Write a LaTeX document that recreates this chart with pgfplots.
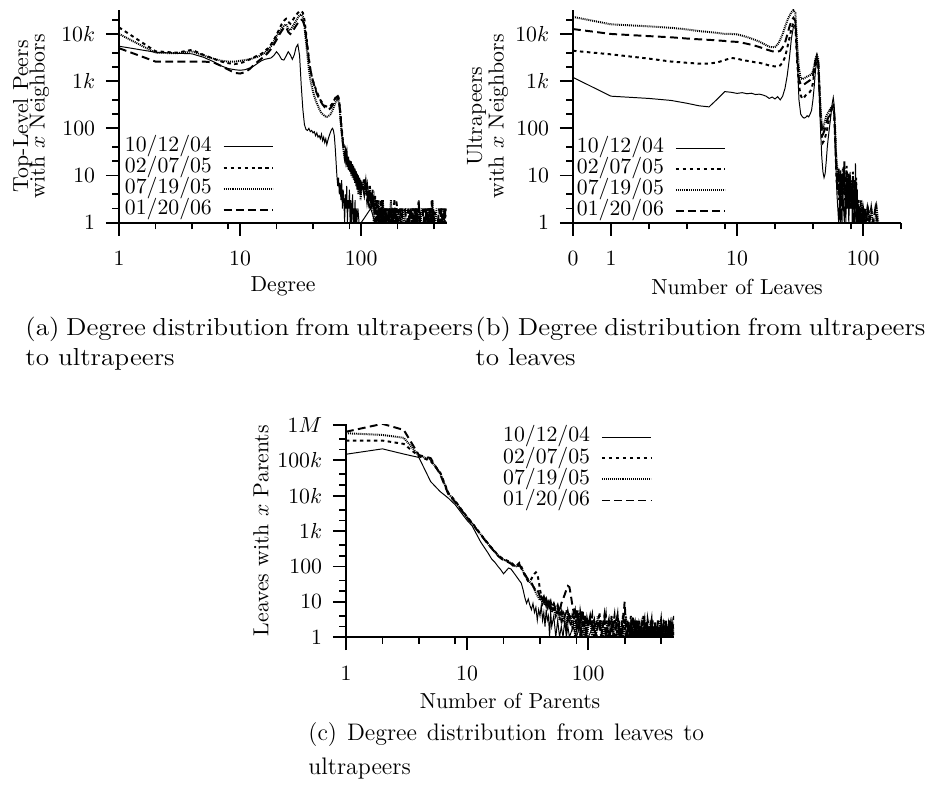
\documentclass[border=0pt]{standalone}
\usepackage{graphicx}
\usepackage{pgfplots}
\pgfplotsset{compat=1.18}
\tikzset{
 s1/.style={black, line width=0.45pt, solid},
 s2/.style={black, line width=0.9pt, dash pattern=on 1.6pt off 1.6pt},
 s3/.style={black, line width=0.9pt, dash pattern=on 0.45pt off 0.45pt},
 s4/.style={black, line width=0.9pt, dash pattern=on 3.6pt off 2pt},
}
\pgfplotsset{
 legend image code/.code={\draw[#1] (0pt,0pt) -- (22.5pt,0pt);},
 every axis/.append style={
   xmode=log, ymode=log, scale only axis, width=150.9pt, height=98pt,
   anchor=south west,
   axis x line=bottom, axis y line=left,
   axis line style={-, line width=0.9pt},
   tick style={black, line width=0.8pt},
   major tick length=6pt, minor tick length=3.1pt,
   tick align=outside,
   ymin=1, unbounded coords=jump,
   tick label style={font=\fontsize{10}{12}\selectfont},
   yticklabel style={xshift=-1.5pt},
   xticklabel style={yshift=-3.7pt},
   label style={font=\fontsize{10}{12}\selectfont},
   xlabel style={at={(axis description cs:0.5,-0.30)}, anchor=center},
   legend cell align=left, legend plot pos=right,
   legend style={draw=none, fill=none, inner sep=0pt, outer sep=0pt,
     font=\fontsize{10}{12}\selectfont, row sep=0pt, column sep=5pt,
     nodes={inner sep=0pt, text height=7pt, text depth=2.7pt}},
 },
}
\begin{document}
\begin{tikzpicture}
\useasboundingbox (0,0) rectangle (429.64pt,361.1pt);
% ---------------- (a)
\begin{axis}[at={(54.74pt,258.66pt)},
  ymax=32768,
  ytick={1,10,100,1000,10000},
  yticklabels={1,10,100,$1k$,$10k$},
  minor ytick={2,4,20,40,200,400,2000,4000,20000},
  xmin=1, xmax=512, xtick={1,10,100}, xticklabels={1,10,100},
  minor xtick={2,4,8,20,40,80,200,400},
  xlabel={Degree},
  ylabel={Top-Level Peers\\[-4.5pt]with $x$ Neighbors},
  ylabel style={align=center, at={(axis description cs:-0.268,0.5)}, anchor=center},
  legend style={at={(0.018,0.406)}, anchor=north west}]
\addplot[s1] coordinates {(1,5500)(2,4100)(3,3900)(4,3800)(5,3200)(6,2600)(7,2100)(8,1850)(9,1750)(10,1700)(11,1750)(12,1900)(13,2100)(14,2400)(15,2700)(16,2900)(17,3000)(18,3100)(19,3500)(20,4200)(21,3600)(22,2900)(23,2800)(24,3400)(25,4200)(26,3600)(27,2900)(28,3600)(29,5200)(30,6000)(31,3500)(32,800)(33,250)(34,120)(35,95)(36,90)(37,100)(38,85)(39,90)(40,80)(41,85)(42,70)(43,80)(44,65)(45,70)(46,60)(47,75)(48,55)(49,65)(50,50)(51,60)(52,45)(53,55)(54,65)(55,75)(56,85)(57,95)(58,100)(59,90)(60,70)(61,40)(62,20)(63,10)(64,6)(65,9)(66,4)(67,7)(68,3)(69,8)(70,2)(71,5)(72,3)(73,1)(74,4)(75,2)(76,6)(77,1)(78,3)(79,2)(80,5)(81,1)(82,3)(83,1)(84,2)(85,4)(86,1)(87,2)(88,1)(89,3)(90,1)(91,2)(92,1)(94,2)(96,1)(100,1)(120,2)(130,1)(200,1)(290,1)(300,3)(310,1)(500,1)};
\addplot[s2] coordinates {(1,13800)(2,4300)(3,4000)(4,4600)(5,3600)(6,3000)(7,2600)(8,2400)(9,2300)(10,2400)(11,2600)(12,2900)(13,3200)(14,3500)(15,3800)(16,4300)(17,5000)(18,6000)(19,7500)(20,9500)(21,12500)(22,16000)(23,19000)(24,21000)(25,18000)(26,16500)(27,19000)(28,22000)(29,25000)(30,28000)(31,30000)(32,31000)(33,28000)(34,20000)(35,11000)(36,5500)(37,3000)(38,1800)(39,1300)(40,1000)(41,850)(42,700)(43,600)(44,520)(45,450)(46,400)(47,370)(48,340)(49,320)(50,300)(52,290)(54,280)(56,300)(58,340)(60,400)(62,470)(64,500)(65,450)(66,350)(67,250)(68,160)(69,100)(70,70)(71,50)(72,40)(73,32)(74,28)(75,22)(76,26)(77,18)(78,24)(79,16)(80,22)(81,14)(82,20)(83,12)(84,18)(85,11)(86,16)(87,9)(88,14)(89,8)(90,12)(91,7)(92,11)(93,6)(94,10)(95,5)(96,9)(97,6)(98,8)(99,4)(100,7)(103,6)(106,9)(109,5)(112,7)(115,3)(118,6)(121,2)(124,5)(127,2)(130,4)(133,1)(136,3)(139,2)(142,1)(145,3)(148,1)(151,2)(154,1)(157,2)(160,1)(164,2)(168,1)(172,2)(176,1)(180,2)(184,1)(188,2)(192,1)(196,3)(200,1)(205,2)(210,1)(215,2)(220,1)(225,1)(228,nan)(250,1)(256,2)(262,1)(268,2)(274,1)(280,1)(286,2)(292,1)(298,3)(304,1)(310,2)(318,nan)(340,2)(346,1)(352,1)(358,2)(364,1)(370,2)(376,1)(382,3)(388,1)(394,2)(400,1)(410,2)(415,nan)(440,1)(450,1)(460,2)(470,1)(480,2)(490,1)(500,2)};
\addplot[s3] coordinates {(1,10000)(2,4000)(3,3900)(4,4300)(5,3500)(6,3000)(7,2700)(8,2600)(9,2600)(10,2700)(11,2800)(12,2900)(13,3100)(14,3300)(15,3600)(16,4000)(17,4600)(18,5500)(19,7000)(20,9000)(21,11000)(22,13000)(23,15000)(24,16000)(25,13000)(26,12000)(27,14000)(28,16500)(29,19000)(30,22000)(31,25000)(32,26000)(33,23000)(34,15000)(35,7000)(36,3500)(37,1800)(38,1100)(39,800)(40,600)(41,480)(42,400)(43,340)(44,300)(45,260)(46,230)(47,210)(48,200)(49,190)(50,180)(52,175)(54,185)(56,200)(58,240)(60,300)(62,380)(64,420)(65,380)(66,300)(67,200)(68,120)(69,80)(70,55)(71,40)(72,30)(73,24)(74,30)(75,20)(76,26)(77,15)(78,22)(79,13)(80,20)(81,12)(82,18)(83,10)(84,16)(85,9)(86,14)(87,8)(88,13)(89,7)(90,12)(91,6)(92,10)(93,5)(94,9)(95,4)(96,8)(97,5)(98,7)(99,3)(100,6)(103,5)(106,8)(109,4)(112,6)(115,3)(118,5)(121,2)(124,4)(127,1)(130,3)(133,2)(136,1)(139,3)(142,1)(145,2)(148,1)(151,3)(154,1)(157,2)(160,1)(164,1)(168,2)(172,1)(176,3)(180,1)(184,2)(188,1)(192,1)(196,2)(200,1)(205,1)(210,2)(215,1)(220,2)(225,1)(230,1)(235,2)(238,nan)(262,2)(268,1)(274,1)(280,2)(286,1)(292,1)(298,2)(304,1)(310,1)(316,2)(320,nan)(346,1)(352,2)(358,1)(364,1)(370,2)(376,1)(382,1)(388,3)(394,1)(400,1)(410,1)(420,2)(425,nan)(460,1)(470,1)(480,2)(490,1)(500,1)};
\addplot[s4] coordinates {(1,5000)(2,2600)(3,2600)(4,2600)(5,2600)(6,2500)(7,2100)(8,1750)(9,1500)(10,1450)(11,1550)(12,1800)(13,2200)(14,2600)(15,3000)(16,3400)(17,4000)(18,4800)(19,6000)(20,7500)(21,9500)(22,11500)(23,13500)(24,14000)(25,11000)(26,10000)(27,11500)(28,13000)(29,15000)(30,17000)(31,19000)(32,20000)(33,19000)(34,15000)(35,9000)(36,5000)(37,2800)(38,1800)(39,1300)(40,1000)(41,800)(42,650)(43,550)(44,480)(45,420)(46,380)(47,350)(48,320)(49,300)(50,280)(52,260)(54,250)(56,270)(58,310)(60,380)(62,450)(64,480)(65,430)(66,340)(67,230)(68,140)(69,90)(70,60)(71,45)(72,34)(73,27)(74,32)(75,22)(76,28)(77,17)(78,25)(79,14)(80,22)(81,13)(82,19)(83,11)(84,17)(85,10)(86,15)(87,9)(88,14)(89,8)(90,13)(91,7)(92,11)(93,6)(94,10)(95,5)(96,9)(97,5)(98,8)(99,4)(100,7)(103,6)(106,4)(109,7)(112,3)(115,5)(118,2)(121,4)(124,2)(127,3)(130,1)(133,3)(136,2)(139,1)(142,2)(145,1)(148,3)(151,1)(154,2)(157,1)(160,2)(164,1)(168,1)(172,2)(176,1)(180,2)(184,1)(188,3)(192,1)(196,2)(200,1)(202,nan)(230,2)(235,1)(240,1)(245,2)(250,1)(256,2)(262,1)(268,1)(274,2)(280,1)(286,2)(292,1)(296,nan)(322,2)(328,1)(334,2)(340,1)(346,2)(352,1)(358,1)(364,2)(370,1)(376,2)(382,1)(388,1)(394,2)(400,1)(404,nan)(430,1)(440,2)(450,1)(460,2)(470,1)(480,1)(490,2)(500,1)};
\legend{10/12/04,02/07/05,07/19/05,01/20/06}
\end{axis}
% ---------------- (b)
\begin{axis}[at={(263.58pt,258.66pt)},
  ymax=32768,
  ytick={1,10,100,1000,10000},
  yticklabels={1,10,100,$1k$,$10k$},
  minor ytick={2,4,20,40,200,400,2000,4000,20000},
  xmin=0.5, xmax=200, xtick={0.5,1,10,100}, xticklabels={0,1,10,100},
  minor xtick={2,4,8,20,40,80,200},
  xlabel={Number of Leaves},
  ylabel={Ultrapeers\\[-2pt]with $x$ Neighbors},
  ylabel style={align=center, at={(axis description cs:-0.261,0.5)}, anchor=center},
  legend style={at={(0.012,0.40)}, anchor=north west}]
\addplot[s1] coordinates {(0.5,1200)(1,480)(2,430)(3,390)(4,340)(5,300)(6,285)(7,420)(8,600)(9,580)(10,550)(11,570)(12,540)(13,555)(14,520)(15,530)(16,510)(17,480)(18,430)(19,460)(20,420)(21,470)(22,400)(23,480)(24,700)(25,1300)(26,3000)(27,8000)(28,14000)(29,16000)(30,3000)(31,400)(32,200)(33,175)(34,165)(35,170)(36,185)(37,175)(38,200)(39,240)(40,400)(41,800)(42,1800)(43,2700)(44,2400)(45,500)(46,90)(47,25)(48,12)(49,9)(50,11)(51,20)(52,40)(53,65)(54,100)(55,150)(56,230)(57,350)(58,450)(59,300)(60,60)(61,12)(62,4)(63,2)(64,1)(65,3)(66,1)(67,2)(68,1)(69,6)(70,2)(71,1)(72,4)(73,1)(74,9)(75,2)(76,5)(77,1)(78,3)(79,12)(80,2)(81,6)(82,1)(83,4)(84,2)(85,8)(86,1)(87,18)(88,3)(89,1)(90,5)(91,1)(92,2)(93,1)(95,2)(97,1)(100,1)(105,1)(110,2)(112,1)(120,1)};
\addplot[s2] coordinates {(0.5,4400)(1,3700)(2,3000)(3,2600)(4,2450)(5,2350)(6,2350)(7,2500)(8,2800)(9,3100)(10,3000)(11,2800)(12,2700)(13,2600)(14,2500)(15,2450)(16,2350)(17,2250)(18,2150)(19,2100)(20,2050)(21,2050)(22,2150)(23,2500)(24,3200)(25,5000)(26,8000)(27,13000)(28,17000)(29,15000)(30,2500)(31,800)(32,500)(33,420)(34,450)(35,500)(36,520)(37,560)(38,600)(39,700)(40,900)(41,1500)(42,2500)(43,3000)(44,2600)(45,700)(46,160)(47,70)(48,50)(49,55)(50,65)(51,80)(52,100)(53,130)(54,160)(55,200)(56,240)(57,270)(58,280)(59,200)(60,55)(61,15)(62,6)(63,9)(64,3)(65,7)(66,2)(67,11)(68,4)(69,14)(70,5)(71,9)(72,3)(73,7)(74,16)(75,4)(76,8)(77,2)(78,10)(79,5)(80,3)(81,7)(82,2)(83,12)(84,4)(85,1)(86,6)(87,2)(88,9)(89,3)(90,2)(91,1)(92,3)(94,1)(96,2)(98,1)(100,2)(102,1)(104,2)(106,1)(108,1)(110,2)(114,1)(118,1)};
\addplot[s3] coordinates {(0.5,23000)(1,16000)(2,14500)(3,13500)(4,12500)(5,11500)(6,11000)(7,10500)(8,10000)(9,10000)(10,9800)(11,9200)(12,8600)(13,8000)(14,7400)(15,6900)(16,6300)(17,5800)(18,5400)(19,5200)(20,5300)(21,6000)(22,7500)(23,10000)(24,14000)(25,19000)(26,24000)(27,29000)(28,32000)(29,28000)(30,6000)(31,1800)(32,1150)(33,1100)(34,1150)(35,1200)(36,1250)(37,1300)(38,1350)(39,1450)(40,1600)(41,2200)(42,3000)(43,3600)(44,3000)(45,900)(46,250)(47,120)(48,100)(49,120)(50,150)(51,180)(52,200)(53,220)(54,240)(55,260)(56,280)(57,300)(58,310)(59,220)(60,100)(61,30)(62,18)(63,8)(64,14)(65,5)(66,11)(67,3)(68,9)(69,6)(70,15)(71,4)(72,8)(73,2)(74,12)(75,6)(76,3)(77,10)(78,4)(79,7)(80,2)(81,6)(82,3)(83,9)(84,2)(85,5)(86,3)(87,7)(88,2)(89,4)(90,1)(92,2)(94,1)(96,3)(98,1)(100,2)(104,1)(108,2)(112,1)(116,2)(120,1)(124,1)(128,2)(132,1)};
\addplot[s4] coordinates {(0.5,12700)(1,10000)(2,9000)(3,8500)(4,8000)(5,7700)(6,7500)(7,7300)(8,7100)(9,6900)(10,6800)(11,6500)(12,6200)(13,5900)(14,5600)(15,5300)(16,5000)(17,4700)(18,4500)(19,4300)(20,4200)(21,4200)(22,4400)(23,5200)(24,6500)(25,9500)(26,14000)(27,19000)(28,22000)(29,19000)(30,3500)(31,1100)(32,850)(33,820)(34,850)(35,900)(36,950)(37,1000)(38,1050)(39,1150)(40,1300)(41,2000)(42,2800)(43,3300)(44,2800)(45,650)(46,180)(47,90)(48,75)(49,85)(50,100)(51,120)(52,150)(53,170)(54,200)(55,230)(56,260)(57,280)(58,290)(59,210)(60,75)(61,20)(62,11)(63,5)(64,9)(65,3)(66,13)(67,6)(68,2)(69,8)(70,4)(71,20)(72,5)(73,9)(74,3)(75,7)(76,2)(77,11)(78,4)(79,2)(80,6)(81,3)(82,8)(83,2)(84,5)(85,1)(86,4)(87,2)(88,6)(89,1)(90,3)(92,1)(94,2)(96,1)(98,2)(100,1)(104,2)(108,1)(112,1)(116,2)(120,1)(125,2)(130,1)(134,1)};
\legend{10/12/04,02/07/05,07/19/05,01/20/06}
\end{axis}
% ---------------- (c)
\begin{axis}[at={(159.16pt,67.99pt)},
  ymax=1048576,
  ytick={1,10,100,1000,10000,100000,1000000},
  yticklabels={1,10,100,$1k$,$10k$,$100k$,$1M$},
  minor ytick={2,4,20,40,200,400,2000,4000,20000,40000,200000,400000},
  xmin=1, xmax=512, xtick={1,10,100}, xticklabels={1,10,100},
  minor xtick={2,4,8,20,40,80,200,400},
  xlabel={Number of Parents},
  ylabel={Leaves with $x$ Parents},
  ylabel style={at={(axis description cs:-0.259,0.5)}, anchor=center},
  legend style={at={(0.479,0.988)}, anchor=north west}]
\addplot[s1] coordinates {(1,148000)(2,210000)(3,150000)(4,120000)(5,25000)(6,13000)(7,8500)(8,5500)(9,3200)(10,2000)(11,1400)(12,800)(13,480)(14,330)(15,230)(16,160)(17,130)(18,100)(19,80)(20,62)(21,75)(22,90)(23,85)(24,70)(25,58)(26,48)(27,40)(28,34)(29,22)(30,13)(31,9)(32,12)(33,8)(34,6)(35,9)(36,5)(37,7)(38,3)(39,6)(40,4)(41,8)(42,3)(43,5)(44,2)(45,6)(46,3)(47,4)(48,1)(49,5)(50,2)(52,4)(54,1)(56,3)(58,1)(60,2)(62,1)(64,3)(66,1)(68,2)(70,1)(75,2)(80,1)(85,2)(90,1)(95,1)(100,1)(110,2)(120,1)(150,1)};
\addplot[s2] coordinates {(1,360000)(2,360000)(3,290000)(4,130000)(5,95000)(6,45000)(7,12000)(8,7000)(9,4000)(10,2500)(11,1700)(12,1150)(13,800)(14,580)(15,430)(16,330)(17,260)(18,210)(19,180)(20,160)(21,150)(22,140)(23,130)(24,115)(25,100)(26,110)(27,125)(28,100)(29,75)(30,55)(31,45)(32,38)(33,36)(34,45)(35,55)(36,62)(37,68)(38,60)(39,40)(40,22)(41,15)(42,12)(43,9)(44,11)(45,8)(46,10)(47,7)(48,9)(49,6)(50,8)(52,5)(54,7)(56,4)(58,6)(60,3)(62,5)(64,4)(66,6)(68,3)(70,5)(72,2)(74,4)(76,3)(78,5)(80,2)(82,4)(84,2)(86,3)(88,1)(90,3)(92,2)(94,4)(96,1)(98,2)(100,3)(104,2)(108,4)(112,1)(116,3)(120,2)(124,5)(128,1)(132,3)(136,2)(140,4)(144,1)(148,2)(152,3)(156,1)(160,2)(165,4)(170,1)(175,2)(180,3)(185,1)(190,2)(195,5)(200,2)(205,1)(210,3)(215,2)(220,1)(225,4)(230,2)(235,1)(240,3)(245,1)(250,2)(256,1)(262,3)(268,2)(274,1)(280,2)(286,4)(292,1)(298,2)(304,1)(310,3)(316,2)(322,1)(328,2)(334,1)(340,3)(346,1)(352,2)(358,1)(364,2)(370,1)(376,3)(382,1)(388,2)(394,1)(400,2)(410,1)(420,3)(430,1)(440,2)(450,1)(460,2)(470,1)(480,2)(490,1)(500,2)(512,1)};
\addplot[s3] coordinates {(1,580000)(2,520000)(3,430000)(4,135000)(5,105000)(6,42000)(7,11500)(8,6800)(9,3900)(10,2450)(11,1650)(12,1120)(13,790)(14,570)(15,425)(16,325)(17,255)(18,205)(19,175)(20,155)(21,145)(22,135)(23,125)(24,110)(25,98)(26,105)(27,118)(28,95)(29,72)(30,57)(31,47)(32,40)(33,36)(34,32)(35,28)(36,22)(37,18)(38,15)(39,13)(40,11)(41,13)(42,9)(43,11)(44,8)(45,10)(46,7)(47,9)(48,6)(49,8)(50,5)(52,7)(54,4)(56,6)(58,3)(60,5)(62,3)(64,4)(66,2)(68,5)(70,3)(72,4)(74,2)(76,3)(78,1)(80,3)(82,2)(84,4)(86,1)(88,3)(90,2)(92,1)(94,3)(96,2)(98,1)(100,2)(104,3)(108,1)(112,2)(116,1)(120,4)(124,2)(128,3)(132,1)(136,2)(140,1)(144,3)(148,1)(152,2)(156,4)(160,1)(165,2)(170,3)(175,1)(180,2)(185,1)(190,3)(195,1)(200,2)(205,4)(210,1)(215,2)(220,1)(225,2)(230,3)(235,1)(240,2)(245,1)(250,3)(256,1)(262,2)(268,1)(274,2)(280,1)(286,2)(292,3)(298,1)(304,2)(310,1)(316,2)(322,1)(328,3)(334,1)(340,2)(346,1)(352,1)(358,2)(364,1)(370,2)(376,1)(382,2)(388,1)(394,3)(400,1)(410,2)(420,1)(430,2)(440,1)(450,2)(460,1)(470,3)(480,1)(490,2)(500,1)(512,2)};
\addplot[s4] coordinates {(1,640000)(2,1070000)(3,720000)(4,140000)(5,115000)(6,40000)(7,11000)(8,6500)(9,3800)(10,2400)(11,1600)(12,1100)(13,780)(14,560)(15,420)(16,320)(17,250)(18,200)(19,170)(20,150)(21,140)(22,130)(23,120)(24,105)(25,95)(26,100)(27,110)(28,90)(29,70)(30,60)(31,50)(32,42)(33,38)(34,35)(35,28)(36,24)(37,20)(38,22)(39,18)(40,14)(41,16)(42,12)(43,14)(44,10)(45,12)(46,9)(47,11)(48,8)(49,10)(50,7)(52,9)(54,6)(56,8)(58,5)(60,9)(62,12)(64,16)(66,22)(68,28)(70,26)(72,15)(74,8)(76,5)(78,7)(80,3)(82,6)(84,2)(86,5)(88,3)(90,6)(92,2)(94,4)(96,1)(98,3)(100,2)(104,4)(108,2)(112,3)(116,1)(120,2)(124,3)(128,1)(132,2)(136,4)(140,1)(144,2)(148,3)(152,1)(156,2)(160,3)(165,1)(170,2)(175,4)(180,1)(185,2)(190,1)(195,3)(200,10)(205,2)(210,1)(215,3)(220,1)(225,2)(230,1)(235,4)(240,1)(245,2)(250,1)(256,3)(262,1)(268,2)(274,1)(280,3)(286,1)(292,2)(298,1)(304,3)(310,1)(316,2)(322,1)(328,2)(334,3)(340,1)(346,2)(352,1)(358,3)(364,1)(370,2)(376,1)(382,2)(388,1)(394,2)(400,3)(410,1)(420,2)(430,1)(440,3)(450,1)(460,2)(470,1)(480,2)(490,1)(500,2)(512,4)};
\legend{10/12/04,02/07/05,07/19/05,01/20/06}
\end{axis}
% ---------------- captions
\node[anchor=north west, inner sep=0pt] at (11.5pt,215.6pt)
  {\scalebox{1.11}[1]{\parbox[t]{185.5pt}{\fontsize{11.3}{13.8}\selectfont\hyphenpenalty=10000 (a) Degree distribution from ultrapeers\linebreak to ultrapeers}}};
\node[anchor=north west, inner sep=0pt] at (218.5pt,215.6pt)
  {\scalebox{1.11}[1]{\parbox[t]{186.5pt}{\fontsize{11.3}{13.8}\selectfont\hyphenpenalty=10000 (b) Degree distribution from ultrapeers\linebreak to leaves}}};
\node[anchor=north west, inner sep=0pt] at (141.7pt,29.1pt)
  {\parbox[t]{182pt}{\fontsize{11}{15.8}\selectfont\hyphenpenalty=10000 (c) Degree distribution from leaves to\linebreak ultrapeers}};
\end{tikzpicture}
\end{document}
